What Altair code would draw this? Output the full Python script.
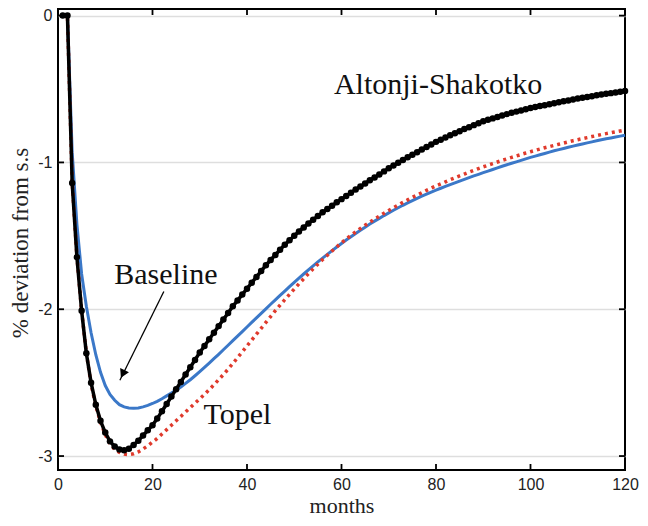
import altair as alt
import pandas as pd

months = list(range(1, 121))

altonji = [0, 0, -1.14, -1.645, -2.01, -2.30, -2.50, -2.65, -2.76, -2.84,
           -2.90, -2.935, -2.955, -2.96, -2.95, -2.925, -2.895, -2.86, -2.825, -2.79,
           -2.745, -2.695, -2.645, -2.595, -2.545, -2.495, -2.445, -2.395, -2.345, -2.295,
           -2.25, -2.205, -2.16, -2.115, -2.07, -2.025, -1.98, -1.94, -1.90, -1.86,
           -1.82, -1.78, -1.74, -1.70, -1.665, -1.63, -1.595, -1.56, -1.53, -1.50,
           -1.47, -1.443, -1.416, -1.39, -1.365, -1.34, -1.317, -1.295, -1.272, -1.25,
           -1.228, -1.206, -1.185, -1.164, -1.143, -1.122, -1.102, -1.082, -1.061, -1.04,
           -1.021, -1.002, -0.983, -0.965, -0.947, -0.93, -0.912, -0.895, -0.878, -0.86,
           -0.845, -0.83, -0.815, -0.801, -0.787, -0.773, -0.76, -0.746, -0.733, -0.72,
           -0.71, -0.70, -0.69, -0.68, -0.671, -0.662, -0.654, -0.646, -0.638, -0.63,
           -0.623, -0.616, -0.61, -0.603, -0.597, -0.59, -0.584, -0.578, -0.571, -0.565,
           -0.56, -0.554, -0.549, -0.543, -0.538, -0.533, -0.528, -0.523, -0.518, -0.513]

baseline = [0, 0, -0.93, -1.42, -1.76, -1.98, -2.16, -2.31, -2.43, -2.52,
            -2.58, -2.62, -2.65, -2.665, -2.672, -2.675, -2.672, -2.665, -2.655, -2.642,
            -2.627, -2.61, -2.59, -2.57, -2.55, -2.53, -2.505, -2.48, -2.453, -2.425,
            -2.396, -2.367, -2.337, -2.307, -2.276, -2.245, -2.214, -2.183, -2.152, -2.121,
            -2.09, -2.059, -2.028, -1.997, -1.966, -1.936, -1.906, -1.876, -1.846, -1.817,
            -1.788, -1.76, -1.732, -1.705, -1.678, -1.652, -1.626, -1.601, -1.576, -1.552,
            -1.529, -1.506, -1.484, -1.462, -1.441, -1.42, -1.40, -1.381, -1.362, -1.344,
            -1.326, -1.309, -1.292, -1.276, -1.26, -1.245, -1.23, -1.216, -1.202, -1.189,
            -1.176, -1.163, -1.151, -1.139, -1.127, -1.115, -1.103, -1.092, -1.081, -1.07,
            -1.059, -1.048, -1.037, -1.026, -1.016, -1.006, -0.996, -0.986, -0.976, -0.966,
            -0.957, -0.948, -0.939, -0.93, -0.921, -0.913, -0.905, -0.897, -0.889, -0.881,
            -0.874, -0.867, -0.86, -0.853, -0.846, -0.839, -0.833, -0.827, -0.821, -0.815]

topel = [0, 0, -1.13, -1.64, -2.01, -2.30, -2.51, -2.66, -2.77, -2.855,
         -2.915, -2.955, -2.975, -2.987, -2.99, -2.985, -2.972, -2.952, -2.93, -2.905,
         -2.88, -2.85, -2.82, -2.79, -2.76, -2.73, -2.70, -2.67, -2.64, -2.61,
         -2.58, -2.548, -2.515, -2.48, -2.445, -2.408, -2.37, -2.33, -2.29, -2.25,
         -2.21, -2.17, -2.13, -2.09, -2.05, -2.01, -1.972, -1.935, -1.898, -1.862,
         -1.827, -1.792, -1.758, -1.725, -1.693, -1.662, -1.632, -1.603, -1.575, -1.548,
         -1.522, -1.497, -1.473, -1.45, -1.428, -1.407, -1.386, -1.366, -1.346, -1.327,
         -1.308, -1.29, -1.272, -1.255, -1.238, -1.222, -1.206, -1.19, -1.175, -1.16,
         -1.146, -1.132, -1.118, -1.105, -1.092, -1.079, -1.066, -1.054, -1.042, -1.03,
         -1.019, -1.008, -0.997, -0.986, -0.976, -0.966, -0.956, -0.946, -0.936, -0.927,
         -0.918, -0.909, -0.9, -0.892, -0.884, -0.876, -0.868, -0.86, -0.852, -0.845,
         -0.838, -0.831, -0.824, -0.817, -0.81, -0.804, -0.798, -0.792, -0.786, -0.78]

x_ticks = [0, 20, 40, 60, 80, 100, 120]
y_ticks = [-3, -2, -1, 0]

labels = ["Altonji-Shakotko", "Baseline", "Topel"]
label_month = [58.4, 11.9, 30.8]
label_value = [-0.537, -1.829, -2.781]

arrow_month = [22.4, 13.1]
arrow_value = [-1.879, -2.484]
head_month = [13.7]
head_value = [-2.44]

W, H = 567, 461
SERIF = "Liberation Serif"
SANS = "Liberation Sans"

xs = alt.Scale(domain=[0, 120], nice=False, zero=False)
ys = alt.Scale(domain=[-3.095, 0.045], nice=False, zero=False)

x_axis = alt.Axis(values=x_ticks, title="months", grid=False, ticks=False,
                  tickSize=0, labelPadding=6, labelFont=SANS, labelFontSize=16,
                  labelColor="#222", labelFlush=False, titleFont=SERIF, titleFontSize=22,
                  titleFontWeight="normal", titleColor="#222",
                  titleBaseline="alphabetic", titleY=42)
y_axis = alt.Axis(values=y_ticks, title="% deviation from s.s", grid=True,
                  gridColor="#dedede", gridWidth=1.5, ticks=False, tickSize=0,
                  labelPadding=6, labelFont=SANS, labelFontSize=16,
                  labelColor="#222", labelExpr="datum.value + ''", labelFlush=False,
                  titleFont=SERIF, titleFontSize=23, titleFontWeight="normal",
                  titleColor="#222", titleX=-26, titleY=H / 2 + 3)


def X(field):
    return alt.X(field, scale=xs, axis=x_axis)


def Y(field):
    return alt.Y(field, scale=ys, axis=y_axis)


df_a = pd.DataFrame({"month": months, "value": altonji})
df_b = pd.DataFrame({"month": months, "value": baseline})
df_t = pd.DataFrame({"month": months, "value": topel})

blue = alt.Chart(df_b).mark_line(color="#3b78c8", strokeWidth=3).encode(
    x=X("month:Q"), y=Y("value:Q"))

red = alt.Chart(df_t).mark_line(color="#e03a2c", strokeWidth=3.5, strokeDash=[3, 4]).encode(
    x=X("month:Q"), y=Y("value:Q"))

black = alt.Chart(df_a).mark_line(
    color="black", strokeWidth=3.5,
    point=alt.OverlayMarkDef(filled=True, color="black", size=42, opacity=1),
).encode(x=X("month:Q"), y=Y("value:Q"))

df_xt = pd.DataFrame({"month": x_ticks})
df_yt = pd.DataFrame({"value": y_ticks})
tick_style = dict(color="black", strokeWidth=1.8)
xt_bottom = alt.Chart(df_xt).mark_rule(**tick_style).encode(
    x=X("month:Q"), y=alt.value(H), y2=alt.value(H - 6))
xt_top = alt.Chart(df_xt).mark_rule(**tick_style).encode(
    x=X("month:Q"), y=alt.value(0), y2=alt.value(6))
yt_left = alt.Chart(df_yt).mark_rule(**tick_style).encode(
    y=Y("value:Q"), x=alt.value(0), x2=alt.value(6))
yt_right = alt.Chart(df_yt).mark_rule(**tick_style).encode(
    y=Y("value:Q"), x=alt.value(W), x2=alt.value(W - 6))

df_lab = pd.DataFrame({"label": labels, "month": label_month, "value": label_value})
texts = alt.Chart(df_lab).mark_text(
    font=SERIF, fontSize=30, align="left", baseline="alphabetic", color="#111"
).encode(x=X("month:Q"), y=Y("value:Q"), text="label:N")

df_arrow = pd.DataFrame({"month": arrow_month, "value": arrow_value})
arrow = alt.Chart(df_arrow).mark_line(color="black", strokeWidth=1.3).encode(
    x=X("month:Q"), y=Y("value:Q"))
df_head = pd.DataFrame({"month": head_month, "value": head_value})
head = alt.Chart(df_head).mark_point(
    shape="triangle-up", filled=True, color="black", size=95, angle=206, opacity=1
).encode(x=X("month:Q"), y=Y("value:Q"))

chart = alt.layer(
    blue, red, black, xt_bottom, xt_top, yt_left, yt_right, texts, arrow, head
).properties(
    width=W, height=H,
    autosize=alt.AutoSizeParams(type="none"),
    padding={"left": 50, "top": 1, "right": 15, "bottom": 48},
).configure_view(
    stroke="black", strokeWidth=2
).configure_axis(
    domain=False
)

chart.save("out.html", embed_options={"renderer": "svg", "actions": False})
